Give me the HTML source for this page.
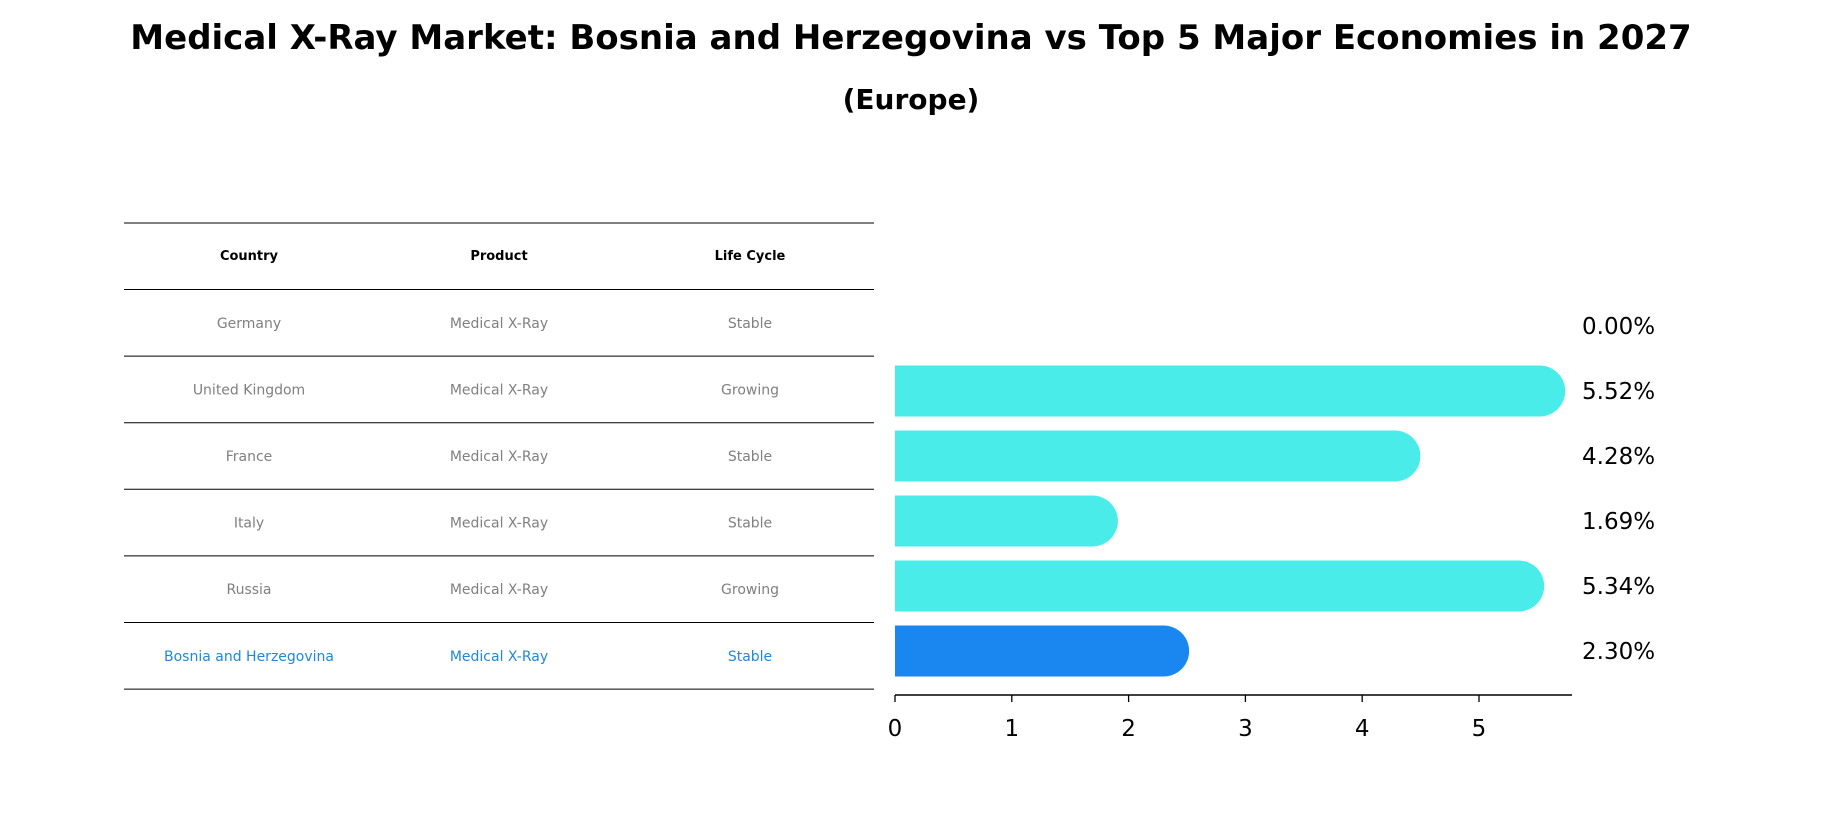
<!DOCTYPE html>
<html><head><meta charset="utf-8"><style>
body{margin:0;background:#fff;}
svg{display:block;font-family:"DejaVu Sans","Liberation Sans",sans-serif;}
</style></head><body>
<svg id="chart" width="1823" height="823">
<text x="911" y="49" text-anchor="middle" font-size="34" font-weight="bold">Medical X-Ray Market: Bosnia and Herzegovina vs Top 5 Major Economies in 2027</text>
<text x="911" y="109" text-anchor="middle" font-size="28" font-weight="bold">(Europe)</text>
<g id="table"></g>
<g id="bars"></g>
</svg>
<script>
const countries=["Germany","United Kingdom","France","Italy","Russia","Bosnia and Herzegovina"];
const products=["Medical X-Ray","Medical X-Ray","Medical X-Ray","Medical X-Ray","Medical X-Ray","Medical X-Ray"];
const lifecycles=["Stable","Growing","Stable","Stable","Growing","Stable"];
const values=[0.00,5.52,4.28,1.69,5.34,2.30];
const ticks=[0,1,2,3,4,5];
const NS="http://www.w3.org/2000/svg";
function mk(tag,attrs,parent){const e=document.createElementNS(NS,tag);for(const k in attrs)e.setAttribute(k,attrs[k]);parent.appendChild(e);return e;}
const tbl=document.getElementById('table'), bars=document.getElementById('bars');
const lineYs=[223,289.5];for(let i=0;i<6;i++)lineYs.push(289.5+(i+1)*66.6);
lineYs.forEach(y=>{const l=mk('line',{x1:124,x2:874,y1:y,y2:y,stroke:'#000','stroke-width':1},tbl);

});
const colX=[249,499,750];
["Country","Product","Life Cycle"].forEach((h,i)=>{const t=mk('text',{x:colX[i],y:260,'text-anchor':'middle','font-size':13,'font-weight':'bold'},tbl);t.textContent=h;

});
countries.forEach((c,r)=>{const y=289.5+r*66.6+33.3+5;const last=r===countries.length-1;const col=last?'#1f88d8':'#808080';
[c,products[r],lifecycles[r]].forEach((v,i)=>{const t=mk('text',{x:colX[i],y:y,'text-anchor':'middle','font-size':14,fill:col},tbl);t.textContent=v;

});});
const x0=895,unit=116.8,barH=51;
const xs=v=>x0+v*unit;
const yc=i=>326+i*65;
values.forEach((v,i)=>{const last=i===values.length-1;const col=last?'#1a86f0':'#4aecea';
if(v>0){const w=xs(v)-x0,r=barH/2;
const p=mk('path',{d:`M${x0},${yc(i)-r} H${x0+w} A${r},${r} 0 0 1 ${x0+w},${yc(i)+r} H${x0} Z`,fill:col},bars);

}
const t=mk('text',{x:1582,y:yc(i)+8,'font-size':23},bars);t.textContent=v.toFixed(2)+'%';

});
const ax=mk('line',{x1:x0,x2:1572,y1:695,y2:695,stroke:'#000','stroke-width':1.6},bars);


ticks.forEach(tv=>{const tk=mk('line',{x1:xs(tv),x2:xs(tv),y1:695,y2:702,stroke:'#000','stroke-width':1.3},bars);


const t=mk('text',{x:xs(tv),y:736,'text-anchor':'middle','font-size':23},bars);t.textContent=tv;

});
</script>
</body></html>
